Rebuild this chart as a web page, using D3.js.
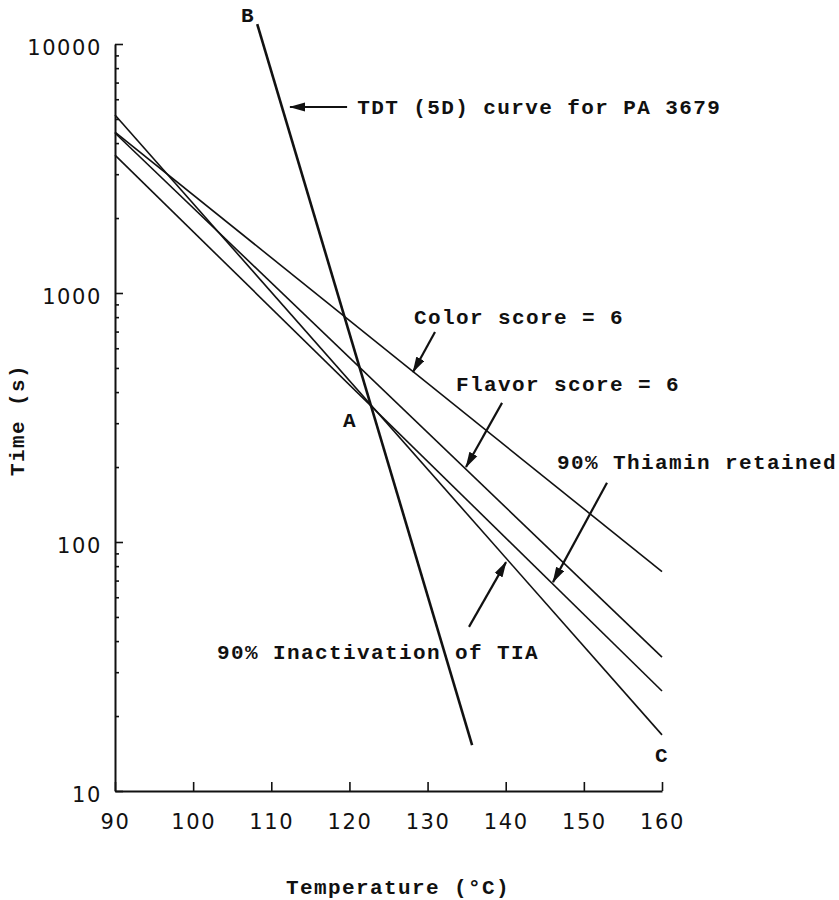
<!DOCTYPE html>
<html>
<head>
<meta charset="utf-8">
<script src="https://cdn.jsdelivr.net/npm/d3@7"></script>
<style>
  body { margin: 0; background: #fff; }
  .ann { font-family: "Liberation Mono", "Courier New", monospace; font-weight: bold; font-size: 21px; letter-spacing: 1.4px; fill: #111; }
</style>
</head>
<body>
<svg width="839" height="900"></svg>
<script>
// temperatures (deg C) at the two ends of the straight lines
var lineTemps = [90, 160];
var colorTimes = [4430, 76];
var flavorTimes = [4390, 34.5];
var thiaminTimes = [3580, 25.2];
var tiaTimes = [5190, 16.8];

// TDT (5D) curve, endpoints
var tdtTemps = [108.2, 135.7];
var tdtTimes = [12030, 15.3];

var xTicks = [90, 100, 110, 120, 130, 140, 150, 160];
var yTicks = [10, 100, 1000, 10000];

// annotation arrows: [tailTemp, tailTime, tipTemp, tipTime]
var arrows = [
  [119.7, 5585, 112.4, 5585],
  [130.95, 697, 128.14, 482],
  [139.53, 362, 134.92, 200],
  [152.96, 173, 146.05, 69],
  [135.3, 45.6, 140.04, 83]
];
// annotation labels: [text, temp, time, anchor]
var labels = [
  ["TDT (5D) curve for PA 3679", 121.0, 5585, "start"],
  ["Color score = 6", 128.27, 801, "start"],
  ["Flavor score = 6", 133.64, 431, "start"],
  ["90% Thiamin retained", 146.56, 210, "start"],
  ["90% Inactivation of TIA", 103.05, 36.2, "start"],
  ["A", 120.07, 309, "middle"],
  ["B", 107.02, 13080, "middle"],
  ["C", 160, 13.95, "middle"]
];

var svg = d3.select("svg");

var x = d3.scaleLinear().domain([90, 160]).range([115, 662]);
var y = d3.scaleLog().domain([10, 10000]).range([791, 44]);

var minor = [];
yTicks.slice(0, 3).forEach(function(d) {
  for (var i = 2; i <= 9; i++) minor.push(d * i);
});

svg.append("defs").append("marker")
    .attr("id", "head")
    .attr("markerUnits", "userSpaceOnUse")
    .attr("viewBox", "0 -5 16 10")
    .attr("refX", 15).attr("refY", 0)
    .attr("markerWidth", 16).attr("markerHeight", 10)
    .attr("orient", "auto")
  .append("path")
    .attr("d", "M0,-4.5L16,0L0,4.5Z")
    .attr("fill", "#111");

// axes
var xAxis = svg.append("g")
    .attr("transform", "translate(0,791)")
    .call(d3.axisBottom(x).tickValues(xTicks).tickSizeInner(-9).tickSizeOuter(0).tickPadding(23));
var yAxis = svg.append("g")
    .attr("transform", "translate(115,0)")
    .call(d3.axisLeft(y).tickValues(yTicks).tickFormat(d3.format("d")).tickSizeInner(-8).tickSizeOuter(0).tickPadding(13));
yAxis.selectAll(".tick text").attr("dy", "0.5em");
svg.append("g")
    .attr("transform", "translate(115,0)")
    .call(d3.axisLeft(y).tickValues(minor).tickFormat("").tickSizeInner(-4).tickSizeOuter(0))
    .select(".domain").remove();

svg.selectAll(".tick text")
    .style("font-family", "'DejaVu Sans', sans-serif")
    .style("font-size", "21px")
    .style("letter-spacing", "1.6px")
    .attr("fill", "#111");
svg.selectAll(".domain").attr("stroke", "#111").attr("stroke-width", 2);
svg.selectAll(".tick line").attr("stroke", "#111").attr("stroke-width", 1.6);

// lines
var series = [colorTimes, flavorTimes, thiaminTimes, tiaTimes];
var line = d3.line()
    .x(function(d) { return x(d[0]); })
    .y(function(d) { return y(d[1]); });

svg.append("g").selectAll("path")
    .data(series)
    .enter().append("path")
      .attr("d", function(s) { return line(d3.zip(lineTemps, s)); })
      .attr("fill", "none")
      .attr("stroke", "#111")
      .attr("stroke-width", 1.6);

svg.append("path")
    .attr("d", line(d3.zip(tdtTemps, tdtTimes)))
    .attr("fill", "none")
    .attr("stroke", "#111")
    .attr("stroke-width", 2.6);

// arrows
svg.append("g").selectAll("line")
    .data(arrows)
    .enter().append("line")
      .attr("x1", function(d) { return x(d[0]); })
      .attr("y1", function(d) { return y(d[1]); })
      .attr("x2", function(d) { return x(d[2]); })
      .attr("y2", function(d) { return y(d[3]); })
      .attr("stroke", "#111")
      .attr("stroke-width", 2.2)
      .attr("marker-end", "url(#head)");

svg.append("g").selectAll("text")
    .data(labels)
    .enter().append("text")
      .attr("class", "ann")
      .attr("x", function(d) { return x(d[1]); })
      .attr("y", function(d) { return y(d[2]); })
      .attr("dy", "0.34em")
      .attr("text-anchor", function(d) { return d[3]; })
      .text(function(d) { return d[0]; });

// axis titles
svg.append("text")
    .attr("class", "ann")
    .attr("x", 398).attr("y", 887)
    .attr("dy", "0.34em")
    .attr("text-anchor", "middle")
    .text("Temperature (°C)");

svg.append("text")
    .attr("class", "ann")
    .attr("transform", "translate(17,420) rotate(-90)")
    .attr("dy", "0.34em")
    .attr("text-anchor", "middle")
    .text("Time (s)");
</script>
</body>
</html>
